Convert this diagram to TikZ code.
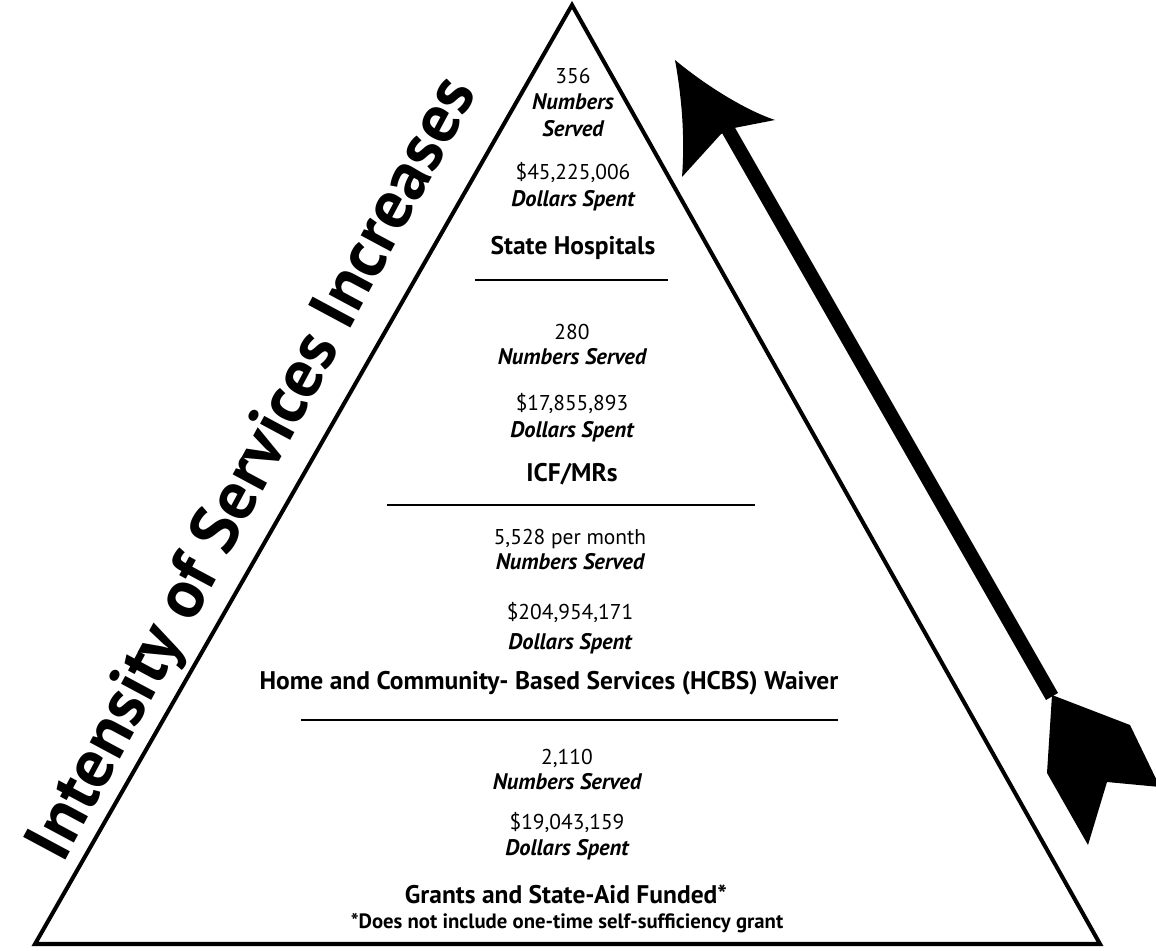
\documentclass[tikz,border=0pt]{standalone}
\usepackage{fontspec}
\setmainfont{PT Sans}
\usetikzlibrary{positioning}

\begin{document}
\begin{tikzpicture}[x=0.02cm, y=-0.02cm, thick]

		% Define styles
		\tikzstyle{num} = [font=\fontsize{12.2}{14}\selectfont, inner sep=0pt, text height=0.7em, text depth=0pt]
		\tikzstyle{lbl} = [font=\fontsize{12.8}{14}\selectfont\bfseries\itshape, inner sep=0pt, text height=0.7em, text depth=0pt]
		\tikzstyle{level} = [font=\fontsize{14.5}{17}\selectfont\bfseries, inner sep=0pt, text height=0.7em, text depth=0pt]
		\tikzstyle{sep} = [line width=1.1pt]

		\useasboundingbox (0,0) rectangle (1156,950);

		% Pyramid
		\coordinate (apex) at (572,5);
		\coordinate (bl) at (35,944);
		\coordinate (br) at (1100,944);
		\draw[line width=2.3pt, line join=miter] (apex) -- (br) -- (bl) -- cycle;

		% Title along the left side
		\node[rotate=61.8, font=\fontsize{39}{45}\selectfont\bfseries] (intensity) at (255,470) {Intensity of Services Increases};

		% State Hospitals
		\node[num] (num1) at (573,77) {356};
		\node[lbl] (served1a) at (573,103) {Numbers};
		\node[lbl] (served1b) at (573,130) {Served};
		\node[num] (cost1) at (573,173) {\$45,225,006};
		\node[lbl] (spent1) at (573,200) {Dollars Spent};
		\node[level] (hosp) at (573,248) {State Hospitals};
		\coordinate (sep1l) at (475,280);
		\coordinate (sep1r) at (668,280);
		\draw[sep] (sep1l) -- (sep1r);

		% ICF/MRs
		\node[num] (num2) at (572,333) {280};
		\node[lbl] (served2) at (572,358) {Numbers Served};
		\node[num] (cost2) at (572,404) {\$17,855,893};
		\node[lbl] (spent2) at (572,431) {Dollars Spent};
		\node[level] (icf) at (572,475) {ICF/MRs};
		\coordinate (sep2l) at (387,505);
		\coordinate (sep2r) at (755,505);
		\draw[sep] (sep2l) -- (sep2r);

		% HCBS Waiver
		\node[num] (num3) at (570,538) {5,528 per month};
		\node[lbl] (served3) at (570,563) {Numbers Served};
		\node[num] (cost3) at (570,613) {\$204,954,171};
		\node[lbl] (spent3) at (570,643) {Dollars Spent};
		\node[level] (hcbs) at (549,683) {Home and Community- Based Services (HCBS) Waiver};
		\coordinate (sep3l) at (301,720);
		\coordinate (sep3r) at (838,720);
		\draw[sep] (sep3l) -- (sep3r);

		% Grants
		\node[num] (num4) at (567,758) {2,110};
		\node[lbl] (served4) at (567,783) {Numbers Served};
		\node[num] (cost4) at (567,823) {\$19,043,159};
		\node[lbl] (spent4) at (567,849) {Dollars Spent};
		\node[level] (grants) at (566,897) {Grants and State-Aid Funded*};
		\node[font=\fontsize{11.8}{13}\selectfont\bfseries, inner sep=0pt] (note) at (567,923) {*Does not include one-time self-sufficiency grant};

		% Arrow on the right
		\fill (675,60) .. controls (705,85) and (745,110) .. (775,120) -- (734,128) -- (721,134) -- (682,177) .. controls (685,138) and (682,99) .. cycle;
		\fill (734,126) -- (722,133) -- (1046,700) -- (1058,693) -- cycle;
		\fill (1052,695) -- (1130,725) -- (1160,787) -- (1107,782) -- (1088,845) -- (1047,773) -- cycle;

	\end{tikzpicture}
\end{document}
